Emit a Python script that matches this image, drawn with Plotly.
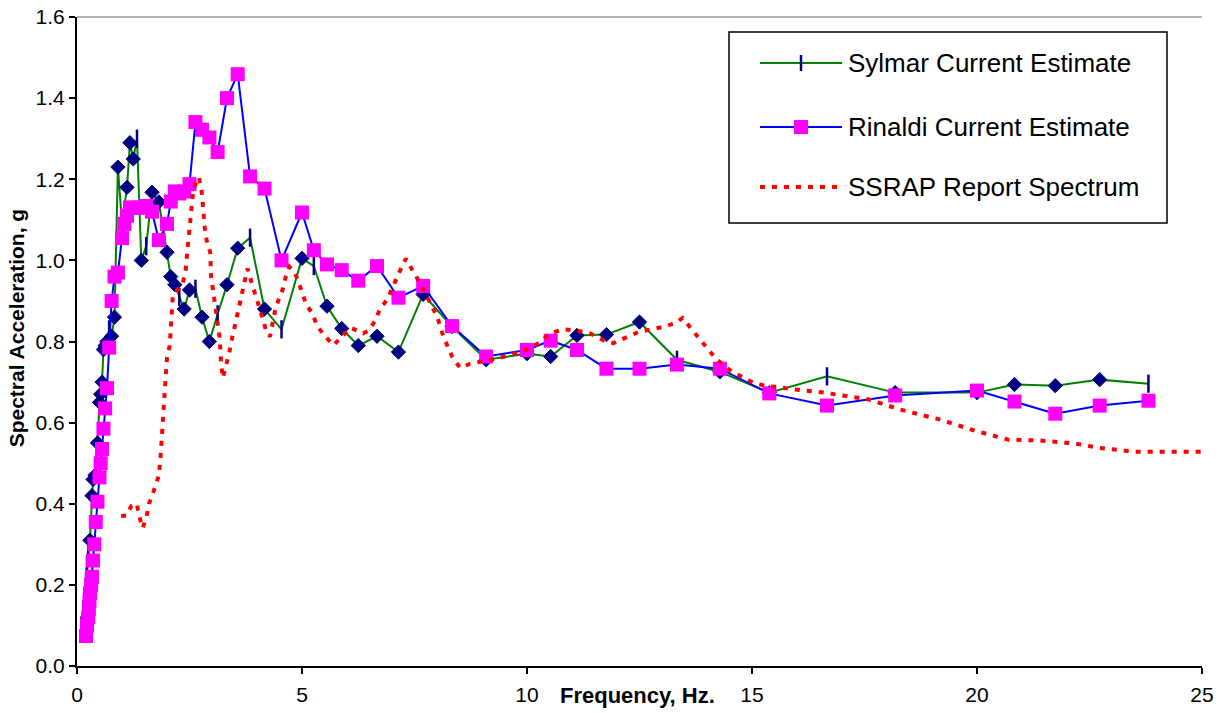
import plotly.graph_objects as go

# ---------------- data ----------------
sylmar_freq = [0.1, 0.125, 0.143, 0.167, 0.2, 0.222, 0.25, 0.286, 0.333, 0.357,
               0.4, 0.455, 0.5, 0.526, 0.556, 0.588, 0.625, 0.667, 0.714, 0.769,
               0.833, 0.909, 1.0, 1.111, 1.176, 1.25, 1.333, 1.429, 1.538, 1.667,
               1.818, 2.0, 2.083, 2.174, 2.273, 2.381, 2.5, 2.632, 2.778, 2.941,
               3.125, 3.333, 3.571, 3.846, 4.167, 4.545, 5.0, 5.263, 5.556, 5.882,
               6.25, 6.667, 7.143, 7.692, 8.333, 9.091, 10.0, 10.526, 11.111, 11.765,
               12.5, 13.333, 14.286, 15.385, 16.667, 18.182, 20.0, 20.833, 21.739, 22.727,
               23.81]
sylmar_sa = [0.10, 0.11, 0.14, 0.17, 0.21, 0.25, 0.29, 0.31, 0.42, 0.46,
             0.47, 0.55, 0.65, 0.67, 0.70, 0.78, 0.79, 0.80, 0.83, 0.813,
             0.86, 1.23, 1.09, 1.18, 1.29, 1.25, 1.30, 1.0, 1.035, 1.168,
             1.144, 1.02, 0.96, 0.94, 0.91, 0.88, 0.927, 0.93, 0.86, 0.80,
             0.867, 0.94, 1.03, 1.056, 0.88, 0.83, 1.005, 0.986, 0.887, 0.832,
             0.79, 0.813, 0.774, 0.916, 0.837, 0.755, 0.77, 0.763, 0.815, 0.817,
             0.848, 0.755, 0.725, 0.674, 0.714, 0.674, 0.674, 0.694, 0.691, 0.706,
             0.696]

rinaldi_freq = [0.2, 0.222, 0.25, 0.263, 0.278, 0.294, 0.3125, 0.333, 0.357, 0.385,
                0.417, 0.455, 0.5, 0.526, 0.556, 0.588, 0.625, 0.667, 0.714, 0.769,
                0.833, 0.909, 1.0, 1.053, 1.111, 1.176, 1.25, 1.333, 1.429, 1.538,
                1.667, 1.818, 2.0, 2.083, 2.174, 2.273, 2.381, 2.5, 2.632, 2.778,
                2.941, 3.125, 3.333, 3.571, 3.846, 4.167, 4.545, 5.0, 5.263, 5.556,
                5.882, 6.25, 6.667, 7.143, 7.692, 8.333, 9.091, 10.0, 10.526, 11.111,
                11.765, 12.5, 13.333, 14.286, 15.385, 16.667, 18.182, 20.0, 20.833, 21.739,
                22.727, 23.81]
rinaldi_sa = [0.074, 0.10, 0.12, 0.14, 0.16, 0.18, 0.20, 0.22, 0.26, 0.30,
              0.355, 0.405, 0.465, 0.50, 0.535, 0.585, 0.635, 0.685, 0.785, 0.90,
              0.96, 0.97, 1.055, 1.09, 1.11, 1.13, 1.13, 1.13, 1.13, 1.134,
              1.12, 1.05, 1.09, 1.145, 1.17, 1.165, 1.17, 1.188, 1.341, 1.322,
              1.303, 1.267, 1.40, 1.459, 1.207, 1.177, 1.0, 1.118, 1.025, 0.99,
              0.976, 0.95, 0.986, 0.908, 0.937, 0.838, 0.763, 0.779, 0.802, 0.779,
              0.733, 0.733, 0.743, 0.733, 0.672, 0.642, 0.667, 0.679, 0.652, 0.622,
              0.642, 0.654]

ssrap_freq = [0.98, 1.10, 1.21, 1.33, 1.38, 1.46, 1.55, 1.60, 1.67, 1.75,
              1.82, 1.86, 1.88, 1.90, 1.92, 1.95, 1.98, 2.00, 2.06, 2.09,
              2.11, 2.13, 2.34, 2.41, 2.45, 2.50, 2.53, 2.58, 2.64, 2.71,
              2.77, 2.80, 2.84, 2.88, 2.96, 2.98, 3.02, 3.07, 3.13, 3.17,
              3.20, 3.24, 3.31, 3.38, 3.45, 3.53, 3.60, 3.66, 3.71, 3.79,
              3.88, 3.96, 4.04, 4.13, 4.19, 4.29, 4.40, 4.47, 4.57, 4.64,
              4.72, 4.84, 4.92, 5.02, 5.09, 5.22, 5.34, 5.51, 5.70, 5.88,
              6.08, 6.36, 6.47, 6.62, 6.73, 6.90, 7.00, 7.10, 7.24, 7.31,
              7.44, 7.62, 7.81, 8.00, 8.14, 8.33, 8.51, 8.73, 9.20, 9.58,
              10.00, 10.29, 10.51, 10.81, 11.14, 11.40, 11.70, 11.92, 12.18, 12.47,
              12.77, 13.03, 13.31, 13.46, 13.66, 13.84, 14.05, 14.21, 14.51, 14.77,
              15.03, 15.33, 15.58, 15.84, 16.60, 17.60, 18.30, 19.20, 19.95, 20.70,
              21.40, 22.20, 22.70, 23.50, 24.10, 25.00]
ssrap_sa = [0.37, 0.371, 0.395, 0.40, 0.37, 0.34, 0.37, 0.40, 0.42, 0.45,
            0.47, 0.52, 0.56, 0.60, 0.645, 0.69, 0.73, 0.76, 0.79, 0.84,
            0.88, 0.916, 0.94, 0.97, 1.02, 1.08, 1.12, 1.17, 1.19, 1.205,
            1.17, 1.12, 1.08, 1.05, 1.02, 0.96, 0.93, 0.89, 0.855, 0.81,
            0.75, 0.71, 0.74, 0.77, 0.81, 0.85, 0.88, 0.91, 0.94, 0.98,
            0.945, 0.912, 0.888, 0.856, 0.831, 0.812, 0.875, 0.90, 0.928, 0.96,
            0.984, 0.971, 0.949, 0.916, 0.891, 0.871, 0.838, 0.813, 0.791, 0.811,
            0.834, 0.82, 0.826, 0.85, 0.879, 0.905, 0.933, 0.955, 0.99, 1.004,
            0.978, 0.945, 0.904, 0.862, 0.813, 0.764, 0.735, 0.745, 0.755, 0.765,
            0.78, 0.798, 0.82, 0.83, 0.826, 0.82, 0.803, 0.796, 0.809, 0.823,
            0.83, 0.836, 0.846, 0.858, 0.83, 0.807, 0.78, 0.756, 0.729, 0.713,
            0.698, 0.69, 0.688, 0.683, 0.674, 0.657, 0.632, 0.607, 0.58, 0.558,
            0.556, 0.548, 0.538, 0.528, 0.528, 0.528]

series_names = ["Sylmar Current Estimate", "Rinaldi Current Estimate", "SSRAP Report Spectrum"]
x_ticks = [0, 5, 10, 15, 20, 25]
y_ticks = [0.0, 0.2, 0.4, 0.6, 0.8, 1.0, 1.2, 1.4, 1.6]

# ---------------- styling ----------------
FONT = "Liberation Sans, Arial, sans-serif"
GREEN = "#008000"
NAVY = "#000080"
BLUE = "#0000FF"
MAGENTA = "#FF00FF"
RED = "#FF0000"

# Sylmar points drawn with the plain vertical-tick marker (the rest get diamonds)
tick_point_freqs = {0.1, 0.125, 0.143, 0.167, 0.2, 0.222, 0.25, 0.714, 1.0, 1.333,
                    1.538, 2.273, 2.632, 3.125, 3.846, 4.545, 5.263, 13.333,
                    16.667, 23.81}
syl_symbols = ["line-ns" if f in tick_point_freqs else "diamond" for f in sylmar_freq]
syl_sizes = [13 if s == "line-ns" else 11 for s in syl_symbols]
syl_lw = [2.5 if s == "line-ns" else 1 for s in syl_symbols]

fig = go.Figure()
fig.add_trace(go.Scatter(
    x=sylmar_freq, y=sylmar_sa, name=series_names[0], mode="lines+markers",
    line=dict(color=GREEN, width=2),
    marker=dict(symbol=syl_symbols, size=syl_sizes, color=NAVY, opacity=1,
                line=dict(color=NAVY, width=syl_lw)),
    showlegend=False))
fig.add_trace(go.Scatter(
    x=rinaldi_freq, y=rinaldi_sa, name=series_names[1], mode="lines+markers",
    line=dict(color=BLUE, width=2),
    marker=dict(symbol="square", size=14, color=MAGENTA, opacity=1, line=dict(width=0)),
    showlegend=False))
fig.add_trace(go.Scatter(
    x=ssrap_freq, y=ssrap_sa, name=series_names[2], mode="lines",
    line=dict(color=RED, width=4, dash="5px,7px"),
    showlegend=False))

axis_common = dict(showline=True, linecolor="black", linewidth=2, mirror=False,
                   ticks="outside", ticklen=6, tickwidth=1.5, tickcolor="black",
                   showgrid=False, zeroline=False, automargin=False,
                   tickfont=dict(family=FONT, size=21, color="black"))
fig.update_xaxes(range=[0, 25], tickvals=x_ticks, ticktext=[str(v) for v in x_ticks],
                 ticklabelstandoff=3, **axis_common)
fig.update_yaxes(range=[0, 1.6], tickvals=y_ticks, ticktext=[f"{v:.1f}" for v in y_ticks],
                 **axis_common)

shapes = []
annotations = []
# top border of plot area (grey)
shapes.append(dict(type="line", xref="paper", yref="paper", x0=0, x1=1, y0=1, y1=1,
                   line=dict(color="#9a9a9a", width=1.5)))

# axis titles
annotations.append(dict(text="<b>Frequency, Hz.</b>", xref="paper", yref="paper",
                        x=0.498, y=-0.046, xanchor="center", yanchor="middle",
                        showarrow=False, font=dict(family=FONT, size=22, color="black")))
annotations.append(dict(text="<b>Spectral Acceleration, g</b>", xref="paper", yref="paper",
                        x=-0.0535, y=0.52, xanchor="center", yanchor="middle", textangle=-90,
                        showarrow=False, font=dict(family=FONT, size=21, color="black")))

# legend (drawn manually to match the long sample lines of the original)
W, H = 1125.0, 649.0
def px_x(p):
    return (p - 77) / W
def px_y(p):
    return (666 - p) / H

shapes.append(dict(type="rect", xref="paper", yref="paper",
                   x0=px_x(729), x1=px_x(1167), y0=px_y(223), y1=px_y(32),
                   line=dict(color="black", width=1.5), fillcolor="white", layer="above"))
rows = [63, 127, 187]
lx0, lx1, lxc = px_x(760), px_x(842), px_x(801)
# Sylmar sample
shapes.append(dict(type="line", xref="paper", yref="paper", x0=lx0, x1=lx1,
                   y0=px_y(rows[0]), y1=px_y(rows[0]), line=dict(color=GREEN, width=2),
                   layer="above"))
shapes.append(dict(type="line", xref="paper", yref="paper", xsizemode="scaled",
                   ysizemode="pixel", yanchor=px_y(rows[0]), x0=lxc, x1=lxc, y0=-8, y1=8,
                   line=dict(color=NAVY, width=2.5), layer="above"))
# Rinaldi sample
shapes.append(dict(type="line", xref="paper", yref="paper", x0=lx0, x1=lx1,
                   y0=px_y(rows[1]), y1=px_y(rows[1]), line=dict(color=BLUE, width=2),
                   layer="above"))
shapes.append(dict(type="rect", xref="paper", yref="paper", xsizemode="pixel",
                   ysizemode="pixel", xanchor=lxc, yanchor=px_y(rows[1]),
                   x0=-7, x1=7, y0=-7, y1=7, line=dict(width=0), fillcolor=MAGENTA,
                   layer="above"))
# SSRAP sample
shapes.append(dict(type="line", xref="paper", yref="paper", x0=lx0, x1=px_x(837),
                   y0=px_y(rows[2]), y1=px_y(rows[2]),
                   line=dict(color=RED, width=4, dash="5px,7px"), layer="above"))
for name, r in zip(series_names, rows):
    annotations.append(dict(text=name, xref="paper", yref="paper", x=px_x(846), y=px_y(r),
                            xanchor="left", yanchor="middle", showarrow=False,
                            font=dict(family=FONT, size=26, color="black")))

fig.update_layout(width=1225, height=713, margin=dict(l=77, r=23, t=17, b=47),
                  paper_bgcolor="white", plot_bgcolor="white", showlegend=False,
                  font=dict(family=FONT, color="black"),
                  shapes=shapes, annotations=annotations)

fig.write_html("out.html")
